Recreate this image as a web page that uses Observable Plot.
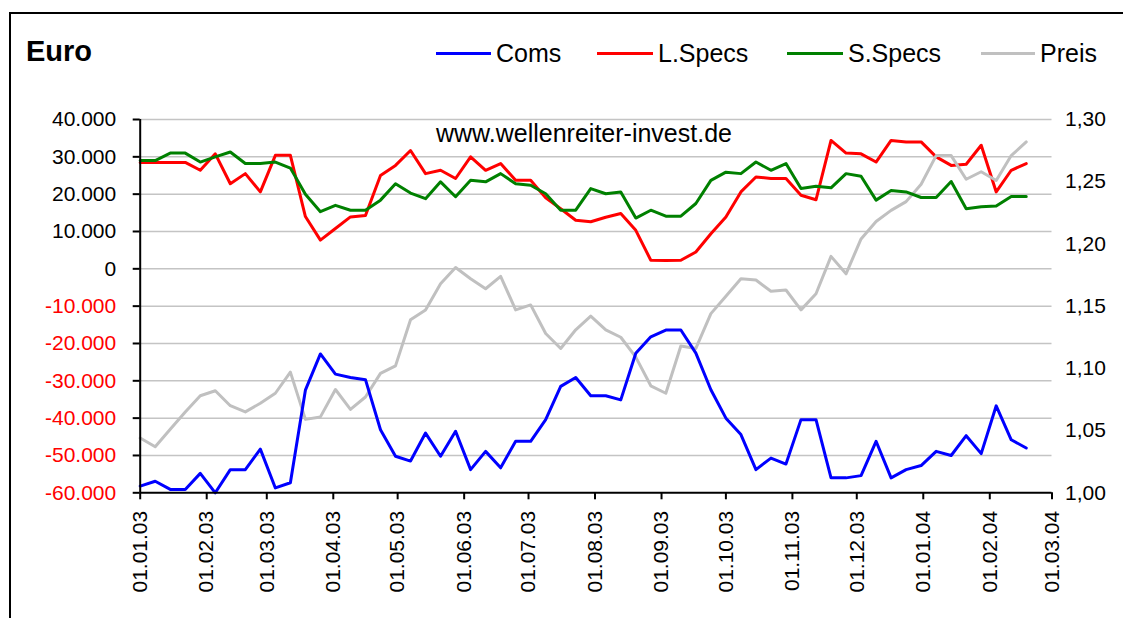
<!DOCTYPE html>
<html><head><meta charset="utf-8">
<script src="https://cdn.jsdelivr.net/npm/d3@7"></script>
<script src="https://cdn.jsdelivr.net/npm/@observablehq/plot@0.6"></script>
<style>
body{margin:0;background:#fff;font-family:"Liberation Sans",Arial,sans-serif;}
#wrap{position:relative;width:1123px;height:618px;overflow:hidden;background:#fff;}
#frame{position:absolute;left:9px;top:12px;width:1300px;height:800px;border-top:2px solid #000;border-left:2px solid #000;}
#title{position:absolute;left:26px;top:37px;font-size:29px;line-height:29px;font-weight:bold;color:#000;}
.leg{position:absolute;top:41px;font-size:25px;line-height:25px;color:#000;white-space:nowrap;}
.sw{position:absolute;top:52px;height:3px;}
#mark{position:absolute;left:436px;top:121px;font-size:25px;line-height:25px;color:#000;white-space:nowrap;}
#chart{position:absolute;left:0;top:80px;}
</style></head>
<body><div id="wrap"><div id="frame"></div><div id="title">Euro</div>
<div id="legend"></div><div id="chart"></div><div id="mark">www.wellenreiter-invest.de</div></div>
<script>
const dates = ["2003-01-01","2003-01-08","2003-01-15","2003-01-22","2003-01-29",
"2003-02-05","2003-02-12","2003-02-19","2003-02-26",
"2003-03-05","2003-03-12","2003-03-19","2003-03-26",
"2003-04-02","2003-04-09","2003-04-16","2003-04-23","2003-04-30",
"2003-05-07","2003-05-14","2003-05-21","2003-05-28",
"2003-06-04","2003-06-11","2003-06-18","2003-06-25",
"2003-07-02","2003-07-09","2003-07-16","2003-07-23","2003-07-30",
"2003-08-06","2003-08-13","2003-08-20","2003-08-27",
"2003-09-03","2003-09-10","2003-09-17","2003-09-24",
"2003-10-01","2003-10-08","2003-10-15","2003-10-22","2003-10-29",
"2003-11-05","2003-11-12","2003-11-19","2003-11-26",
"2003-12-03","2003-12-10","2003-12-17","2003-12-24","2003-12-31",
"2004-01-07","2004-01-14","2004-01-21","2004-01-28",
"2004-02-04","2004-02-11","2004-02-18"];
const coms = [-58200,-56900,-59100,-59100,-54800,-60000,-53800,-53800,-48300,-58700,
-57300,-32500,-22800,-28200,-29100,-29700,-43100,-50200,-51500,-44000,
-50200,-43500,-53800,-48900,-53300,-46200,-46200,-40400,-31500,-29100,
-34000,-34000,-35100,-22600,-18200,-16400,-16400,-22600,-32400,-40000,
-44400,-53800,-50700,-52300,-40400,-40400,-56000,-56000,-55400,-46200,
-56000,-53800,-52700,-48900,-50000,-44700,-49500,-36700,-45800,-48000];
const lSpecs = [28500,28500,28500,28500,26400,30800,22800,25500,20600,30400,
30400,14000,7700,10800,13900,14300,25000,27700,31700,25500,
26400,24200,30000,26400,28200,23700,23700,19000,16100,13000,
12600,13800,14800,10300,2300,2200,2300,4500,9400,13900,
20600,24600,24200,24200,19700,18500,34400,31000,30800,28600,
34400,34000,34000,30000,27700,28000,33100,20600,26400,28200];
const sSpecs = [29000,29000,31000,31000,28600,30000,31300,28200,28200,28600,
27000,20000,15300,17000,15700,15700,18400,22800,20300,18800,
23300,19300,23700,23300,25500,22800,22400,20100,15700,15700,
21500,20100,20600,13600,15700,14100,14100,17500,23700,25900,
25500,28600,26400,28200,21500,22100,21700,25500,24800,18400,
21000,20600,19100,19100,23400,16100,16600,16800,19400,19400];
const preis = [1.044,1.037,1.051,1.065,1.078,1.082,1.070,1.065,1.072,1.080,
1.097,1.059,1.061,1.083,1.067,1.077,1.096,1.102,1.139,1.147,
1.168,1.181,1.172,1.164,1.174,1.147,1.151,1.128,1.116,1.131,
1.142,1.131,1.125,1.109,1.086,1.080,1.118,1.116,1.144,1.158,
1.172,1.171,1.162,1.163,1.147,1.160,1.190,1.176,1.204,1.218,
1.227,1.234,1.248,1.271,1.271,1.252,1.258,1.251,1.271,1.282];
const leftTicks = [-60000,-50000,-40000,-30000,-20000,-10000,0,10000,20000,30000,40000];
const priceTicks = [1.00,1.05,1.10,1.15,1.20,1.25,1.30];
const monthTicks = ["2003-01-01","2003-02-01","2003-03-01","2003-04-01","2003-05-01","2003-06-01",
"2003-07-01","2003-08-01","2003-09-01","2003-10-01","2003-11-01","2003-12-01",
"2004-01-01","2004-02-01","2004-03-01"];
const seriesNames = ["Coms","L.Specs","S.Specs","Preis"];
const seriesColors = ["#0000ff","#ff0000","#008000","#c0c0c0"];

// secondary axis (price) mapped onto the primary domain
const pMin = 1.00, pMax = 1.30, lMin = -60000, lMax = 40000;
const toL = p => lMin + (p - pMin) / (pMax - pMin) * (lMax - lMin);
const fromL = v => pMin + (v - lMin) / (lMax - lMin) * (pMax - pMin);
const fmtL = d => (d < 0 ? "-" : "") + d3.format(",")(Math.abs(d)).replace(/,/g, ".");
const fmtP = v => d3.format(".2f")(fromL(v)).replace(".", ",");

const parse = s => new Date(s + "T00:00:00Z");
const mk = (vals, f = v => v) => dates.map((d, i) => ({date: parse(d), v: f(vals[i])}));
const rows = [mk(coms), mk(lSpecs), mk(sSpecs), mk(preis, toL)];

const font = "'Liberation Sans', Arial, sans-serif";
const chart = Plot.plot({
  width: 1123, height: 538,
  marginTop: 39, marginBottom: 125.7, marginLeft: 139.7, marginRight: 71.5,
  x: {type: "utc", domain: [parse(monthTicks[0]), parse(monthTicks[monthTicks.length - 1])]},
  y: {domain: [lMin, lMax], label: null},
  style: {fontFamily: font, fontSize: "21px", color: "#000", background: "transparent", overflow: "visible"},
  marks: [
    Plot.ruleY(leftTicks.filter(t => t > lMin), {stroke: "#c4c4c4", strokeWidth: 1.5}),
    Plot.axisY({ticks: leftTicks.filter(t => t < 0), tickFormat: fmtL, tickSize: 7, tickPadding: 17,
      fill: "#ff0000", stroke: "#000", strokeWidth: 2, label: null, fontSize: 21}),
    Plot.axisY({ticks: leftTicks.filter(t => t >= 0), tickFormat: fmtL, tickSize: 7, tickPadding: 17,
      fill: "#000", stroke: "#000", strokeWidth: 2, label: null, fontSize: 21}),
    Plot.axisY({anchor: "right", ticks: priceTicks.map(toL), tickFormat: fmtP, tickSize: 0, tickPadding: 13,
      fill: "#000", label: null, fontSize: 21}),
    Plot.axisX({ticks: monthTicks.map(parse), tickFormat: d3.utcFormat("%d.%m.%y"), tickRotate: -90,
      tickSize: 7, tickPadding: 11, stroke: "#000", strokeWidth: 2, fill: "#000", label: null, fontSize: 21}),
    Plot.lineY(rows[1], {x: "date", y: "v", stroke: seriesColors[1], strokeWidth: 3}),
    Plot.lineY(rows[3], {x: "date", y: "v", stroke: seriesColors[3], strokeWidth: 3}),
    Plot.lineY(rows[2], {x: "date", y: "v", stroke: seriesColors[2], strokeWidth: 3}),
    Plot.lineY(rows[0], {x: "date", y: "v", stroke: seriesColors[0], strokeWidth: 3}),
    Plot.ruleX([parse(monthTicks[0])], {y1: lMin, y2: lMax, stroke: "#000", strokeWidth: 2}),
    Plot.ruleY([lMin], {stroke: "#000", strokeWidth: 2})
  ]
});
document.getElementById("chart").appendChild(chart);

// legend
const legX = [[436, 496], [597, 658], [787, 848], [981, 1040]];
const leg = document.getElementById("legend");
seriesNames.forEach((n, i) => {
  const sw = document.createElement("div");
  sw.className = "sw";
  sw.style.left = legX[i][0] + "px";
  sw.style.width = (legX[i][1] - legX[i][0] - 5) + "px";
  sw.style.background = seriesColors[i];
  leg.appendChild(sw);
  const t = document.createElement("div");
  t.className = "leg";
  t.style.left = legX[i][1] + "px";
  t.textContent = n;
  leg.appendChild(t);
});
</script></body></html>
